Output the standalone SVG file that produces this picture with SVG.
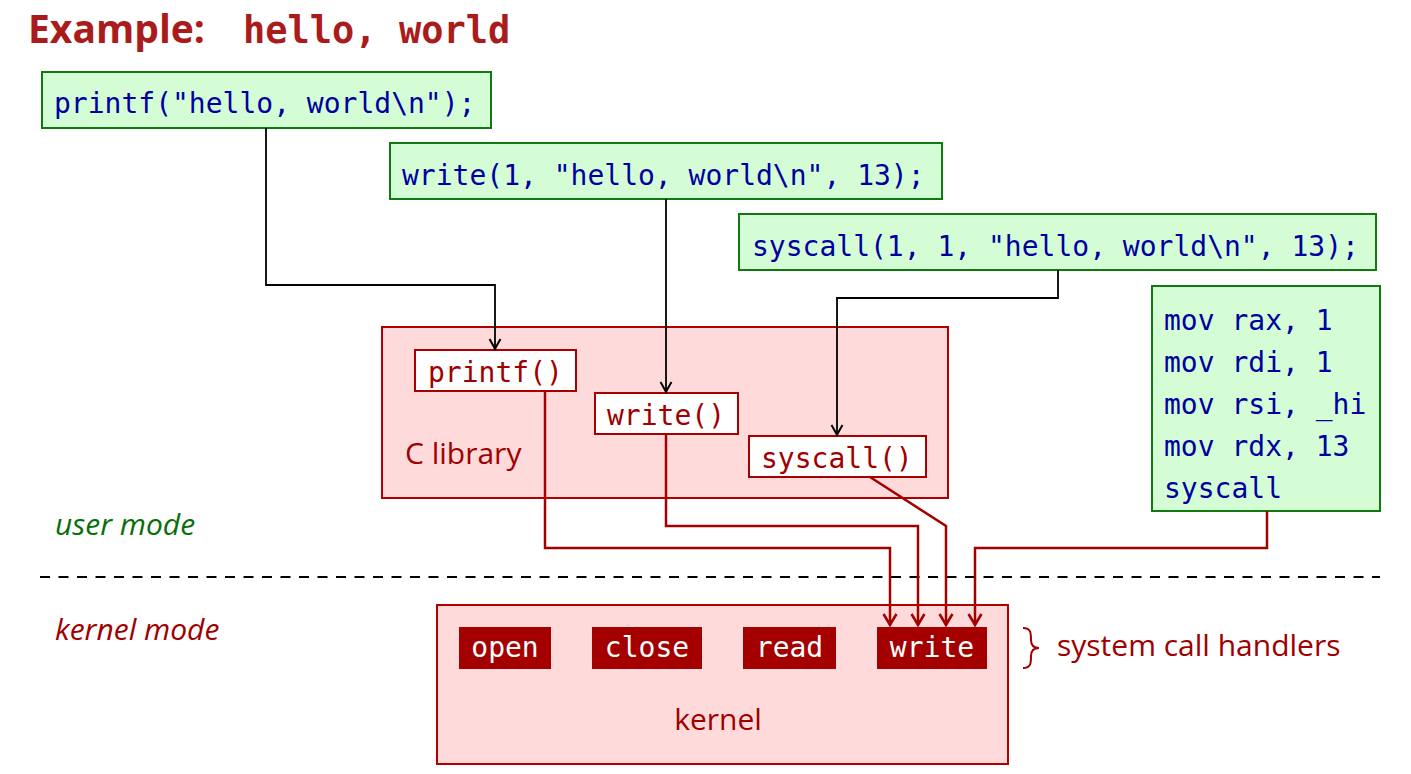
<svg xmlns="http://www.w3.org/2000/svg" width="1411" height="774" viewBox="0 0 1411 774">
<style>
.code{font-family:"DejaVu Sans Mono","Liberation Mono",monospace;font-size:28px}
.blue{fill:#0000a0}
.red{fill:#a00000}
.lbl{font-family:"Open Sans","Noto Sans",sans-serif;font-size:30px}
.ital{font-family:"Open Sans","Noto Sans",sans-serif;font-size:30px;font-style:italic}
.ubox{fill:#d5fdd5;stroke:#107a10;stroke-width:2}
.lib{fill:#ffdada;stroke:#b00000;stroke-width:2}
.fn{fill:#ffffff;stroke:#a80000;stroke-width:2}
.h{fill:#a50000}
.ht{fill:#ffffff;text-anchor:middle}
.blk{fill:none;stroke:#000;stroke-width:1.8}
.rl{fill:none;stroke:#a50000;stroke-width:2.5}
</style>
<defs>
<marker id="ab" markerUnits="userSpaceOnUse" markerWidth="16" markerHeight="16" viewBox="-12 -8 14 16" refX="0" refY="0" orient="auto">
<path d="M-10,-5.5 Q-2.5,-1.2 0,0 Q-2.5,1.2 -10,5.5" fill="none" stroke="#000" stroke-width="2"/>
</marker>
<marker id="ar" markerUnits="userSpaceOnUse" markerWidth="18" markerHeight="18" viewBox="-13 -9 15 18" refX="0" refY="0" orient="auto">
<path d="M-11,-6.5 Q-2.5,-1.3 0,0 Q-2.5,1.3 -11,6.5" fill="none" stroke="#a50000" stroke-width="2.6"/>
</marker>
</defs>
<rect width="1411" height="774" fill="#ffffff"/>
<g id="title">
<text x="28" y="43" font-family="'Open Sans','Noto Sans',sans-serif" font-weight="bold" font-size="39" fill="#aa1c1c">Example:</text>
<text x="243" y="43" font-family="'DejaVu Sans Mono',monospace" font-weight="bold" font-size="37" fill="#aa1c1c">hello, world</text>
</g>
<g id="clib">
<rect class="lib" x="382" y="327" width="566" height="171"/>
<text class="lbl red" x="405" y="464" font-size="31">C library</text>
</g>
<g id="kernel">
<rect class="lib" x="437" y="605" width="571" height="159"/>
<text class="lbl red" x="718" y="730" text-anchor="middle">kernel</text>
</g>
<g id="printf-call">
<rect class="ubox" x="42" y="72" width="449" height="56"/>
<text class="code blue" x="54" y="113">printf("hello, world\n");</text>
</g>
<g id="write-call">
<rect class="ubox" x="390" y="143" width="552" height="56"/>
<text class="code blue" x="402" y="185">write(1, "hello, world\n", 13);</text>
</g>
<g id="syscall-call">
<rect class="ubox" x="739" y="214" width="637" height="56"/>
<text class="code blue" x="752" y="256">syscall(1, 1, "hello, world\n", 13);</text>
</g>
<g id="asm">
<rect class="ubox" x="1152" y="286" width="228" height="225"/>
<text class="code blue" x="1164" y="330">mov rax, 1</text>
<text class="code blue" x="1164" y="372">mov rdi, 1</text>
<text class="code blue" x="1164" y="414">mov rsi, _hi</text>
<text class="code blue" x="1164" y="456">mov rdx, 13</text>
<text class="code blue" x="1164" y="498">syscall</text>
</g>
<g id="printf-fn">
<rect class="fn" x="415" y="350" width="161" height="41"/>
<text class="code red" x="428" y="382">printf()</text>
</g>
<g id="write-fn">
<rect class="fn" x="595" y="393" width="143" height="41"/>
<text class="code red" x="607" y="425">write()</text>
</g>
<g id="syscall-fn">
<rect class="fn" x="749" y="436" width="177" height="41"/>
<text class="code red" x="761" y="468">syscall()</text>
</g>
<g id="h-open">
<rect class="h" x="459" y="627" width="92" height="42"/>
<text class="code ht" x="505" y="657">open</text>
</g>
<g id="h-close">
<rect class="h" x="592" y="627" width="110" height="42"/>
<text class="code ht" x="647" y="657">close</text>
</g>
<g id="h-read">
<rect class="h" x="743" y="627" width="93" height="42"/>
<text class="code ht" x="789.5" y="657">read</text>
</g>
<g id="h-write">
<rect class="h" x="877" y="627" width="110" height="42"/>
<text class="code ht" x="932" y="657">write</text>
</g>
<g id="modes">
<text class="ital" x="55" y="535" fill="#0a6e0a">user mode</text>
<text class="ital red" x="55" y="640">kernel mode</text>
<line x1="40" y1="577" x2="1380" y2="577" stroke="#000" stroke-width="2" stroke-dasharray="10 8.5"/>
</g>
<g id="handlers-label">
<path d="M1023,628 C1031,628 1031,633 1031,640 C1031,645 1033,648 1039,648 C1033,648 1031,651 1031,656 C1031,663 1031,668 1023,668" fill="none" stroke="#a00000" stroke-width="2"/>
<text class="lbl red" x="1057" y="656">system call handlers</text>
</g>
<g id="connectors">
<path class="blk" d="M266,128 V285 H495 V349" marker-end="url(#ab)"/>
<path class="blk" d="M666,199 V392" marker-end="url(#ab)"/>
<path class="blk" d="M1058,270 V298 H837 V435" marker-end="url(#ab)"/>
<path class="rl" d="M545,391 V548 H890 V625" marker-end="url(#ar)"/>
<path class="rl" d="M666,434 V526 H918 V625" marker-end="url(#ar)"/>
<path class="rl" d="M870,477 L946,526 V625" marker-end="url(#ar)"/>
<path class="rl" d="M1267,511 V548 H975 V625" marker-end="url(#ar)"/>
</g>
</svg>
